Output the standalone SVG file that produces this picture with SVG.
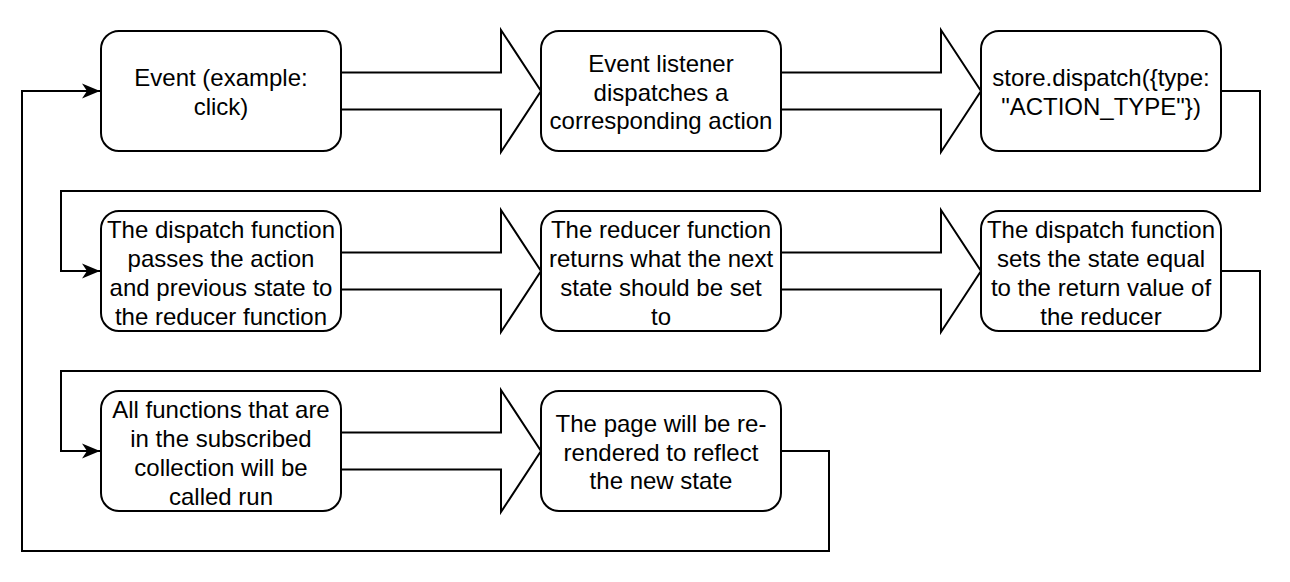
<svg xmlns="http://www.w3.org/2000/svg" width="1290" height="582" viewBox="0 0 1290 582">
<defs>
<style>
.node rect{fill:#fff;stroke:#000;stroke-width:2}
.node text{font-family:"Liberation Sans",Arial,sans-serif;font-size:24px;fill:#000;text-anchor:middle}
.block{fill:#fff;stroke:#000;stroke-width:2;stroke-linejoin:miter}
.conn{fill:none;stroke:#000;stroke-width:2}
</style>
<marker id="ah" viewBox="0 0 18 16" refX="18" refY="8" markerWidth="18" markerHeight="16" markerUnits="userSpaceOnUse" orient="auto">
<path d="M0,0.5 L18,8 L0,15.5 L5,8 Z" fill="#000"/>
</marker>
</defs>
<g id="connectors">
<path class="block" d="M341,72.5 H501 V30 L541,91 L501,152 V109.5 H341"/>
<path class="block" d="M781,72.5 H941 V30 L981,91 L941,152 V109.5 H781"/>
<path class="block" d="M341,252.5 H501 V210 L541,271 L501,332 V289.5 H341"/>
<path class="block" d="M781,252.5 H941 V210 L981,271 L941,332 V289.5 H781"/>
<path class="block" d="M341,432.5 H501 V390 L541,451 L501,512 V469.5 H341"/>
<path class="conn" marker-end="url(#ah)" d="M1221,91 H1260 V191 H61 V271 H100"/>
<path class="conn" marker-end="url(#ah)" d="M1221,271 H1260 V371 H61 V451 H100"/>
<path class="conn" marker-end="url(#ah)" d="M781,451 H829 V551 H22 V91 H100"/>
</g>
<g id="n1" class="node"><rect x="101" y="31" width="240" height="120" rx="18"/>
<text x="221" y="86">Event (example:</text><text x="221" y="115">click)</text></g>
<g id="n2" class="node"><rect x="541" y="31" width="240" height="120" rx="18"/>
<text x="661" y="72">Event listener</text><text x="661" y="101">dispatches a</text><text x="661" y="129">corresponding action</text></g>
<g id="n3" class="node"><rect x="981" y="31" width="240" height="120" rx="18"/>
<text x="1101" y="86">store.dispatch({type:</text><text x="1101" y="115">"ACTION_TYPE"})</text></g>
<g id="n4" class="node"><rect x="101" y="211" width="240" height="120" rx="18"/>
<text x="221" y="238">The dispatch function</text><text x="221" y="267">passes the action</text><text x="221" y="296">and previous state to</text><text x="221" y="325">the reducer function</text></g>
<g id="n5" class="node"><rect x="541" y="211" width="240" height="120" rx="18"/>
<text x="661" y="238">The reducer function</text><text x="661" y="267">returns what the next</text><text x="661" y="296">state should be set</text><text x="661" y="325">to</text></g>
<g id="n6" class="node"><rect x="981" y="211" width="240" height="120" rx="18"/>
<text x="1101" y="238">The dispatch function</text><text x="1101" y="267">sets the state equal</text><text x="1101" y="296">to the return value of</text><text x="1101" y="325">the reducer</text></g>
<g id="n7" class="node"><rect x="101" y="391" width="240" height="120" rx="18"/>
<text x="221" y="418">All functions that are</text><text x="221" y="447">in the subscribed</text><text x="221" y="476">collection will be</text><text x="221" y="505">called run</text></g>
<g id="n8" class="node"><rect x="541" y="391" width="240" height="120" rx="18"/>
<text x="661" y="432">The page will be re-</text><text x="661" y="461">rendered to reflect</text><text x="661" y="489">the new state</text></g>
</svg>
